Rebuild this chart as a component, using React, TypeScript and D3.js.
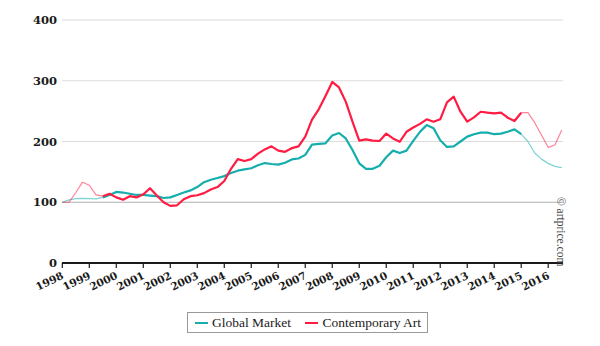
import React from "react";
import * as d3 from "d3";

const startYear = 1998;
const globalMarket = [
  100, 104, 106, 106.5, 106, 105.5, 108, 112, 117, 116, 114, 112, 112, 111, 110, 107,
  108, 112, 116, 119.5, 125, 133, 137, 140, 143, 148, 152, 154, 156, 161, 164.5, 163,
  162, 165, 170.5, 172, 178, 195, 196, 197, 210, 214, 205, 186, 164, 155, 155, 160,
  174, 185, 181, 185, 201, 216, 227, 222, 202, 191, 192, 200, 208, 212, 214.5, 214.5,
  212, 213, 216, 220, 212, 200, 181, 171, 164, 159, 157,
];
const contemporaryArt = [
  100, 100, 116, 133, 128, 112, 110, 114, 108, 104, 110, 108, 113, 123, 111, 100,
  94, 95, 105, 110, 111.5, 115, 121, 125, 135, 155, 171, 168, 171, 180, 187, 192,
  185, 183, 189, 192, 208, 236, 253, 275, 298, 289, 265.6, 232.6, 201.4, 203.6, 201.4, 200.8,
  213, 205, 199.6, 216, 223, 229, 236.5, 232.6, 236.5, 264.5, 273.8, 249, 232.6, 239.8,
  249, 247.4, 246.4, 247.4, 239.2, 233.7, 247.4, 247.4, 231, 210.7, 190.4, 194.2, 219,
];
const yTicks = [0, 100, 200, 300, 400];
const xTickYears = d3.range(1998, 2017);
const seriesNames = ["Global Market", "Contemporary Art"];

const TEAL = "#16adad";
const RED = "#ff1b42";

export default function App() {
  const W = 600, H = 346;
  const x = d3.scaleLinear().domain([1998, 2016.5]).range([62.3, 561.7]);
  const y = d3.scaleLinear().domain([0, 400]).range([263, 20]);
  const t = (i: number) => startYear + i / 4;

  const line = d3
    .line<[number, number]>()
    .x((d) => x(t(d[0])))
    .y((d) => y(d[1]));

  const seg = (arr: number[], a: number, b: number) =>
    line(arr.map((v, i) => [i, v] as [number, number]).slice(a, b + 1)) || "";

  const THIN_START = 6;
  const THIN_END = 68;

  const series = [
    { data: globalMarket, color: TEAL },
    { data: contemporaryArt, color: RED },
  ];

  return (
    <svg
      width={W}
      height={H}
      style={{ position: "absolute", left: 0, top: 0, background: "#fff" }}
    >
      {yTicks.slice(1).map((v) => (
        <line
          key={v}
          x1={62}
          x2={563}
          y1={y(v)}
          y2={y(v)}
          stroke={v === 100 ? "#b0b0b0" : "#dcdcdc"}
          strokeWidth={1.2}
        />
      ))}
      {yTicks.map((v) => (
        <text
          key={v}
          x={57}
          y={y(v) + 4}
          textAnchor="end"
          fontFamily="'DejaVu Serif', serif"
          fontWeight="bold"
          fontSize={11.5}
          fill="#1a1a1a"
        >
          {v}
        </text>
      ))}
      {series.map((s, k) => (
        <g key={k} fill="none" strokeLinejoin="round">
          <path d={seg(s.data, 0, THIN_START)} stroke={s.color} strokeOpacity={0.55} strokeWidth={1.2} />
          <path d={seg(s.data, THIN_END, s.data.length - 1)} stroke={s.color} strokeOpacity={0.55} strokeWidth={1.2} />
          <path d={seg(s.data, THIN_START, THIN_END)} stroke={s.color} strokeWidth={2.2} />
        </g>
      ))}
      <line x1={62} x2={563} y1={y(0)} y2={y(0)} stroke="#1a1a1a" strokeWidth={2.2} />
      {xTickYears.map((yr) => (
        <g key={yr} transform={`translate(${x(yr)},${y(0)})`}>
          <line y1={0} y2={5} stroke="#1a1a1a" strokeWidth={1.2} />
          <text
            transform="translate(2,15) rotate(-26)"
            textAnchor="end"
            fontFamily="'DejaVu Serif', serif"
            fontWeight="bold"
            fontSize={10.5}
            fill="#1a1a1a"
          >
            {yr}
          </text>
        </g>
      ))}
      <text
        transform={`translate(557,197) rotate(90)`}
        fontFamily="'Liberation Serif', serif"
        fontSize={11.5}
        fill="#444"
      >
        © artprice.com
      </text>
      <g>
        <rect x={187.5} y={312.5} width={240} height={20} fill="#fff" stroke="#999" strokeWidth={1} />
        <line x1={195} x2={208} y1={323} y2={323} stroke={TEAL} strokeWidth={2} />
        <text x={212} y={327} fontFamily="'Liberation Serif', serif" fontSize={13.5} fill="#1a1a1a">
          {seriesNames[0]}
        </text>
        <line x1={305} x2={318} y1={323} y2={323} stroke={RED} strokeWidth={2} />
        <text x={322.5} y={327} fontFamily="'Liberation Serif', serif" fontSize={13.5} fill="#1a1a1a">
          {seriesNames[1]}
        </text>
      </g>
    </svg>
  );
}
